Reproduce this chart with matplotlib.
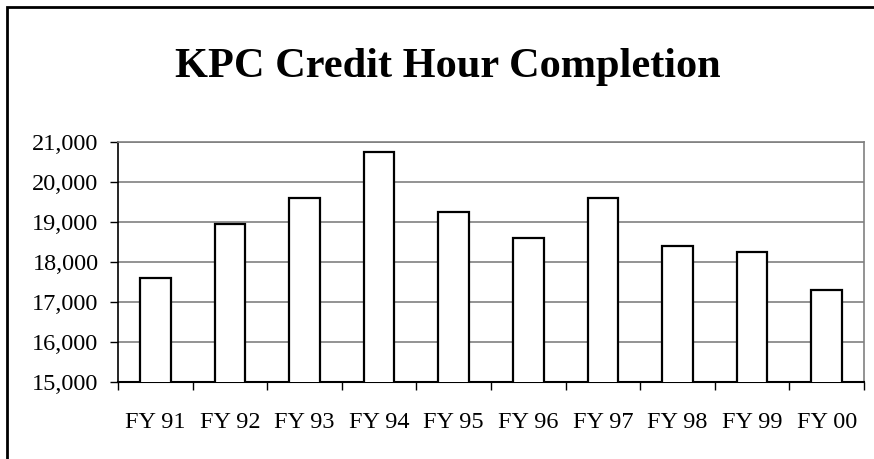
import matplotlib
matplotlib.use("Agg")
import matplotlib.pyplot as plt
from matplotlib.patches import Rectangle
from matplotlib.ticker import FuncFormatter, FixedLocator

# -------------------- DATA --------------------
years = ["FY 91", "FY 92", "FY 93", "FY 94", "FY 95",
         "FY 96", "FY 97", "FY 98", "FY 99", "FY 00"]
credit_hours = [17600, 18950, 19600, 20750, 19250,
                18600, 19600, 18400, 18250, 17300]

plt.rcParams['font.family'] = ['Liberation Serif', 'DejaVu Serif']

W, H = 874, 459
fig = plt.figure(figsize=(W / 100, H / 100), dpi=100)
fig.patch.set_facecolor("white")

# outer chart border (right/bottom run off the picture)
fig.add_artist(Rectangle((7 / W, -0.1), 1.2, 1 - 7 / H + 0.1,
                         transform=fig.transFigure, fill=False,
                         edgecolor="black", linewidth=2))

left, right, top, bottom = 118, 864, 141.7, 381.7
ax = fig.add_axes([left / W, 1 - bottom / H, (right - left) / W, (bottom - top) / H])

x = range(len(years))
ax.bar(x, credit_hours, width=0.41, bottom=0, color="white",
       edgecolor="black", linewidth=1.6, zorder=3)

ax.set_xlim(-0.5, len(years) - 0.5)
ax.set_ylim(15000, 21000)
ax.set_yticks(range(15000, 21001, 1000))
ax.yaxis.set_major_formatter(FuncFormatter(lambda v, p: f"{int(v):,}"))
ax.grid(axis="y", color="#808080", linewidth=1.2, zorder=0)

# category ticks on the boundaries, labels centered
ax.xaxis.set_major_locator(FixedLocator([i - 0.5 for i in range(len(years) + 1)]))
ax.xaxis.set_major_formatter(FuncFormatter(lambda v, p: ""))
ax.xaxis.set_minor_locator(FixedLocator(list(x)))
ax.set_xticklabels(years, minor=True)
ax.tick_params(axis="x", which="minor", length=0, pad=22, labelsize=17.5)
ax.tick_params(axis="x", which="major", length=6, width=1, direction="out")
ax.tick_params(axis="y", length=6, width=1, direction="out", labelsize=17.5, pad=8)

for s in ["top", "right"]:
    ax.spines[s].set_color("#808080")
    ax.spines[s].set_linewidth(1.2)
ax.spines["left"].set_color("black")
ax.spines["bottom"].set_color("black")
ax.spines["left"].set_linewidth(1.2)
ax.spines["bottom"].set_linewidth(1.5)

fig.text(448 / W, 1 - 77 / H, "KPC Credit Hour Completion", ha="center", va="baseline",
         fontsize=30.5, fontweight="bold")

fig.savefig("out.png", dpi=100)
